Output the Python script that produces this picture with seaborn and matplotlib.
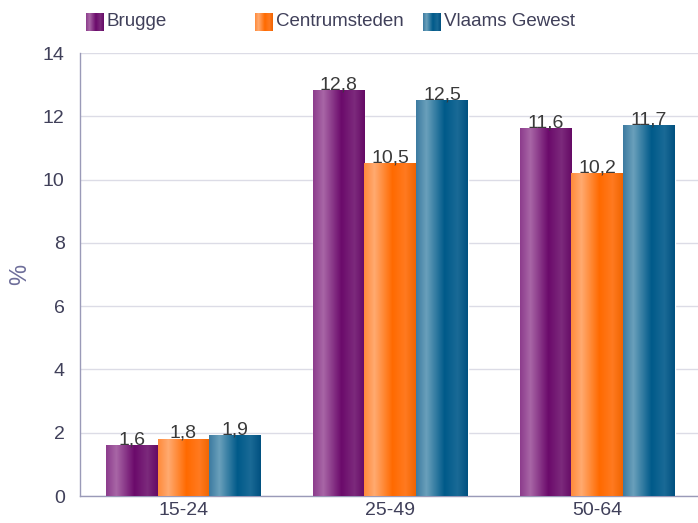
import numpy as np
import pandas as pd
import matplotlib.pyplot as plt
import seaborn as sns
from matplotlib.colors import LinearSegmentedColormap

# Data
age_groups = ["15-24", "25-49", "50-64"]
series = ["Brugge", "Centrumsteden", "Vlaams Gewest"]
brugge = [1.6, 12.8, 11.6]
centrumsteden = [1.8, 10.5, 10.2]
vlaams_gewest = [1.9, 12.5, 11.7]

df = pd.DataFrame({
    "leeftijd": age_groups * 3,
    "reeks": [s for s in series for _ in age_groups],
    "waarde": brugge + centrumsteden + vlaams_gewest,
})

sns.set_style("white")
plt.rcParams["font.family"] = ["Liberation Sans", "DejaVu Sans"]

base_colors = {"Brugge": "#6b0a6b", "Centrumsteden": "#ff6a00", "Vlaams Gewest": "#005a8a"}
# left-to-right gradient stops: medium, light, dark, slightly lighter, dark
grad_stops = {
    "Brugge": ["#8c3c8c", "#a866a6", "#6b0a6b", "#7c2a7c", "#650a65"],
    "Centrumsteden": ["#ff8a3a", "#ffaa70", "#ff6a00", "#ff7a20", "#f06400"],
    "Vlaams Gewest": ["#3c7aa0", "#6aa0bb", "#005a8a", "#1a6a96", "#005080"],
}
cmaps = {k: LinearSegmentedColormap.from_list(k, list(zip([0, 0.2, 0.55, 0.8, 1], v)))
         for k, v in grad_stops.items()}
grad = np.linspace(0, 1, 256).reshape(1, -1)

fig = plt.figure(figsize=(6.98, 5.23), dpi=100)
ax = fig.add_axes([0.1146, 0.0516, 0.898, 0.847])

sns.barplot(data=df, x="leeftijd", y="waarde", hue="reeks", order=age_groups,
            hue_order=series, palette=base_colors, width=0.75, ax=ax,
            legend=False, errorbar=None, saturation=1)

# gradient fill on top of each bar
for name, cont in zip(series, ax.containers):
    for p in cont.patches:
        x, w, h = p.get_x(), p.get_width(), p.get_height()
        ax.imshow(grad, extent=[x, x + w, 0, h], aspect="auto",
                  cmap=cmaps[name], zorder=3)
    ax.bar_label(cont, labels=[f"{v:.1f}".replace(".", ",") for v in cont.datavalues],
                 padding=-2, fontsize=14, color="#3a3a3a", zorder=4)

ax.set_xlim(-0.5, 2.53)
ax.set_ylim(0, 14)
ax.set_yticks(range(0, 15, 2))
ax.set_aspect("auto")
ax.yaxis.grid(True, color="#dcdce6", linewidth=1)
ax.set_axisbelow(True)
ax.tick_params(axis="y", length=0, labelsize=14, labelcolor="#40405a", pad=11)
ax.tick_params(axis="x", length=0, labelsize=14, labelcolor="#40405a", pad=4)
ax.set_xlabel("")
ax.set_ylabel("%", fontsize=17, color="#6e6e9a")
ax.yaxis.set_label_coords(-0.078, 0.5)
for side in ["top", "right"]:
    ax.spines[side].set_visible(False)
for side in ["left", "bottom"]:
    ax.spines[side].set_color("#9a9ab8")
    ax.spines[side].set_linewidth(1)

# legend drawn by hand, evenly spaced like the reference
leg_x = [86, 255, 423]
for name, lx in zip(series, leg_x):
    lax = fig.add_axes([lx / 698, 1 - 31 / 523, 18 / 698, 18 / 523])
    lax.imshow(grad, aspect="auto", cmap=cmaps[name])
    lax.set_axis_off()
    fig.text((lx + 21) / 698, 1 - 22 / 523, name, fontsize=13.5,
             color="#40405a", va="center", ha="left")

fig.savefig("out.png", dpi=100)
